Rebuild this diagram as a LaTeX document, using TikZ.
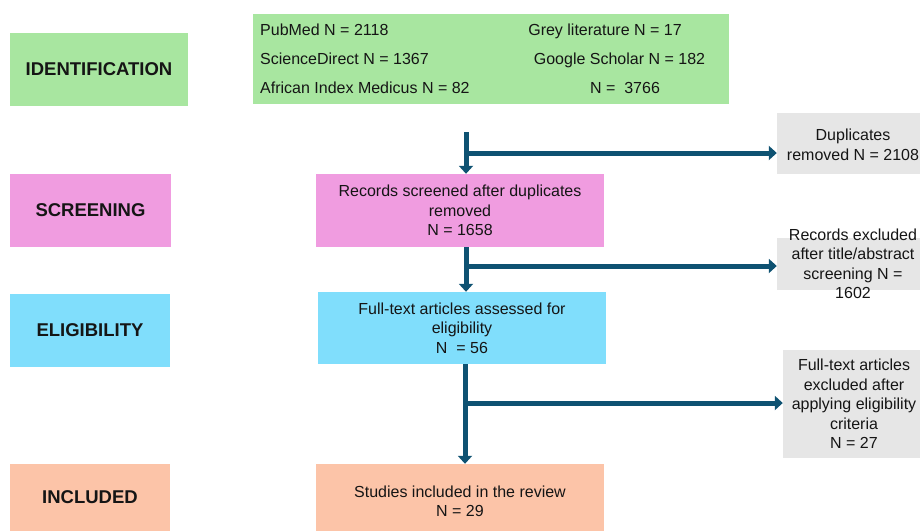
\documentclass[tikz,border=0pt]{standalone}
\usepackage{fontspec}
\setmainfont{Liberation Sans}
\usetikzlibrary{arrows.meta}
\definecolor{cgreen}{HTML}{A8E6A0}
\definecolor{cpink}{HTML}{F09CE0}
\definecolor{cblue}{HTML}{80DEFC}
\definecolor{corange}{HTML}{FCC4A8}
\definecolor{cgray}{HTML}{E6E6E6}
\definecolor{carrow}{HTML}{0E5272}
\definecolor{ctext}{HTML}{151515}
\tikzset{
  stage/.style={draw=none, inner sep=0pt, font=\fontsize{18.5}{20}\selectfont\bfseries, text=ctext},
  bodybox/.style={draw=none, inner sep=0pt, align=center, text=ctext, font=\fontsize{16}{19.5}\selectfont},
  srctext/.style={inner sep=0pt, text=ctext, font=\fontsize{16}{18}\selectfont},
  arr/.style={draw=carrow, line width=5pt, -{Triangle[length=8pt,width=14pt]}},
}
\begin{document}
\begin{tikzpicture}[x=1pt,y=-1pt]
\useasboundingbox (0,0) rectangle (920,531);
% stage labels
\node[stage, fill=cgreen, minimum width=178pt, minimum height=73pt] (lid) at (99,69.5) {IDENTIFICATION};
\node[stage, fill=cpink, minimum width=161pt, minimum height=73pt] (lscr) at (90.5,210.5) {SCREENING};
\node[stage, fill=cblue, minimum width=160pt, minimum height=73pt] (lel) at (90,330.5) {ELIGIBILITY};
\node[stage, fill=corange, minimum width=160pt, minimum height=67pt] (linc) at (90,497.5) {INCLUDED};
% sources box
\node[fill=cgreen, minimum width=476pt, minimum height=90pt, inner sep=0pt] (src) at (491,59) {};
\node[srctext, anchor=base west] (s1) at (260,35) {PubMed N = 2118};
\node[srctext, anchor=base west] (s2) at (260,64) {ScienceDirect N = 1367};
\node[srctext, anchor=base west] (s3) at (260,93) {African Index Medicus N = 82};
\node[srctext, anchor=base] (s4) at (605,35) {Grey literature N = 17};
\node[srctext, anchor=base] (s5) at (619.5,64) {Google Scholar N = 182};
\node[srctext, anchor=base] (s6) at (625,93) {N =\ \ 3766};
% main flow boxes
\node[bodybox, fill=cpink, minimum width=288pt, minimum height=73pt] (scr) at (460,210.5) {Records screened after duplicates\\removed\\N = 1658};
\node[bodybox, fill=cblue, minimum width=288pt, minimum height=72pt] (el) at (462,328) {Full-text articles assessed for\\eligibility\\N\ \ = 56};
\node[fill=corange, minimum width=288pt, minimum height=67pt, inner sep=0pt] (inc) at (460,497.5) {};
\node[bodybox, anchor=center] (inctxt) at (460,501.5) {Studies included in the review\\N = 29};
% exclusion boxes
\node[fill=cgray, minimum width=143pt, minimum height=61pt, inner sep=0pt] (dup) at (848.5,143.5) {};
\node[bodybox, anchor=center] (duptxt) at (853,145) {Duplicates\\removed N = 2108};
\node[fill=cgray, minimum width=143pt, minimum height=52pt, inner sep=0pt] (rex) at (848.5,264) {};
\node[bodybox, anchor=center] (rextxt) at (853,264) {Records excluded\\after title/abstract\\screening N =\\1602};
\node[fill=cgray, minimum width=137pt, minimum height=108pt, inner sep=0pt] (fex) at (851.5,404) {};
\node[bodybox, anchor=center] (fextxt) at (854,404) {Full-text articles\\excluded after\\applying eligibility\\criteria\\N = 27};
% connectors
\coordinate (a1) at (466,132);
\coordinate (j1) at (466,153);
\coordinate (j2) at (466,266);
\coordinate (j3) at (465,403);
\draw[arr] (a1) -- (a1 |- scr.north);
\draw[arr] (j1) -- (j1 -| dup.west);
\draw[arr] (scr.south -| j2) -- (j2 |- el.north);
\draw[arr] (j2) -- (j2 -| rex.west);
\draw[arr] (el.south -| j3) -- (j3 |- inc.north);
\draw[arr] (j3) -- (j3 -| fex.west);
\end{tikzpicture}
\end{document}
